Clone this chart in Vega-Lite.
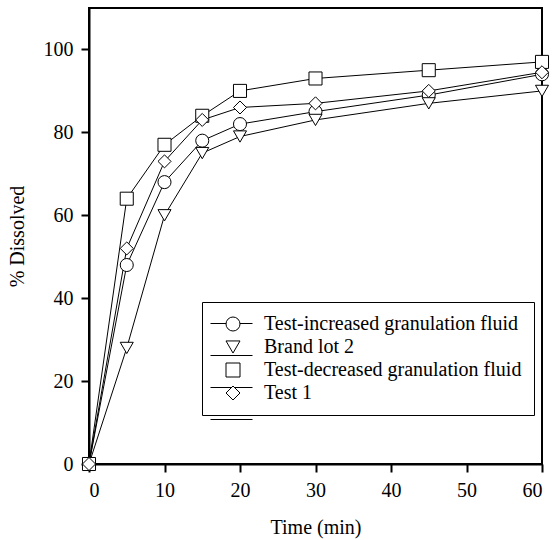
{
  "$schema": "https://vega.github.io/schema/vega-lite/v6.json",
  "width": 453,
  "height": 456,
  "autosize": "none",
  "padding": {"left": 89, "top": 8, "right": 11, "bottom": 76},
  "background": "white",
  "config": {
    "view": {"stroke": "black", "strokeWidth": 2},
    "font": "'Liberation Serif', 'DejaVu Serif', serif",
    "axis": {
      "grid": false,
      "domainColor": "black",
      "domainWidth": 2,
      "tickColor": "black",
      "tickWidth": 2,
      "tickSize": 8,
      "labelFont": "'Liberation Serif', 'DejaVu Serif', serif",
      "labelFontSize": 20,
      "labelColor": "black",
      "labelPadding": 8,
      "titleFont": "'Liberation Serif', 'DejaVu Serif', serif",
      "titleFontSize": 20,
      "titleFontWeight": "normal",
      "titleColor": "black"
    }
  },
  "data": {
    "values": [
      {"series": "Test-increased granulation fluid", "time": 0, "pct": 0},
      {"series": "Test-increased granulation fluid", "time": 5, "pct": 48},
      {"series": "Test-increased granulation fluid", "time": 10, "pct": 68},
      {"series": "Test-increased granulation fluid", "time": 15, "pct": 78},
      {"series": "Test-increased granulation fluid", "time": 20, "pct": 82},
      {"series": "Test-increased granulation fluid", "time": 30, "pct": 85},
      {"series": "Test-increased granulation fluid", "time": 45, "pct": 89},
      {"series": "Test-increased granulation fluid", "time": 60, "pct": 94},
      {"series": "Brand lot 2", "time": 0, "pct": 0},
      {"series": "Brand lot 2", "time": 5, "pct": 28},
      {"series": "Brand lot 2", "time": 10, "pct": 60},
      {"series": "Brand lot 2", "time": 15, "pct": 75},
      {"series": "Brand lot 2", "time": 20, "pct": 79},
      {"series": "Brand lot 2", "time": 30, "pct": 83},
      {"series": "Brand lot 2", "time": 45, "pct": 87},
      {"series": "Brand lot 2", "time": 60, "pct": 90},
      {"series": "Test-decreased granulation fluid", "time": 0, "pct": 0},
      {"series": "Test-decreased granulation fluid", "time": 5, "pct": 64},
      {"series": "Test-decreased granulation fluid", "time": 10, "pct": 77},
      {"series": "Test-decreased granulation fluid", "time": 15, "pct": 84},
      {"series": "Test-decreased granulation fluid", "time": 20, "pct": 90},
      {"series": "Test-decreased granulation fluid", "time": 30, "pct": 93},
      {"series": "Test-decreased granulation fluid", "time": 45, "pct": 95},
      {"series": "Test-decreased granulation fluid", "time": 60, "pct": 97},
      {"series": "Test 1", "time": 0, "pct": 0},
      {"series": "Test 1", "time": 5, "pct": 52},
      {"series": "Test 1", "time": 10, "pct": 73},
      {"series": "Test 1", "time": 15, "pct": 83},
      {"series": "Test 1", "time": 20, "pct": 86},
      {"series": "Test 1", "time": 30, "pct": 87},
      {"series": "Test 1", "time": 45, "pct": 90},
      {"series": "Test 1", "time": 60, "pct": 94.5}
    ]
  },
  "encoding": {
    "x": {
      "field": "time", "type": "quantitative",
      "scale": {"domain": [0, 60], "nice": false, "zero": false},
      "axis": {"values": [0, 10, 20, 30, 40, 50, 60], "title": "Time (min)", "titlePadding": 17}
    },
    "y": {
      "field": "pct", "type": "quantitative",
      "scale": {"domain": [0, 110], "nice": false},
      "axis": {"values": [0, 20, 40, 60, 80, 100], "title": "% Dissolved", "titlePadding": 16}
    }
  },
  "layer": [
    {
      "mark": {"type": "line", "strokeWidth": 1},
      "encoding": {
        "color": {
          "field": "series", "type": "nominal",
          "scale": {
            "domain": ["Test 1", "Brand lot 2", "Test-decreased granulation fluid", "Test-increased granulation fluid"],
            "range": ["black", "black", "black", "black"]
          },
          "legend": {
            "title": null,
            "orient": "none",
            "legendX": 121,
            "legendY": 294,
            "padding": 0,
            "symbolType": "stroke",
            "symbolSize": 1764,
            "symbolStrokeWidth": 1,
            "symbolStrokeColor": "black",
            "labelExpr": "''",
            "labelFontSize": 20,
            "rowPadding": -21
          }
        }
      }
    },
    {
      "mark": {"type": "point", "filled": true, "fill": "white", "stroke": "black", "strokeWidth": 1, "size": 170, "opacity": 1},
      "encoding": {
        "shape": {
          "field": "series", "type": "nominal",
          "scale": {
            "domain": ["Test-increased granulation fluid", "Brand lot 2", "Test-decreased granulation fluid", "Test 1"],
            "range": ["circle", "triangle-down", "square", "diamond"]
          },
          "legend": {
            "title": null,
            "orient": "none",
            "legendX": 113,
            "legendY": 294,
            "strokeColor": "black",
            "padding": 12,
            "symbolSize": 196,
            "symbolOffset": 9,
            "symbolStrokeWidth": 1,
            "labelFont": "'Liberation Serif', 'DejaVu Serif', serif",
            "labelFontSize": 20,
            "labelColor": "black",
            "labelLimit": 500,
            "labelOffset": 21,
            "rowPadding": 3,
            "encode": {
              "legend": {"strokeWidth": {"value": 1.5}},
              "symbols": {
                "fill": {"value": "white"},
                "stroke": {"value": "black"}
              }
            }
          }
        }
      }
    }
  ]
}
